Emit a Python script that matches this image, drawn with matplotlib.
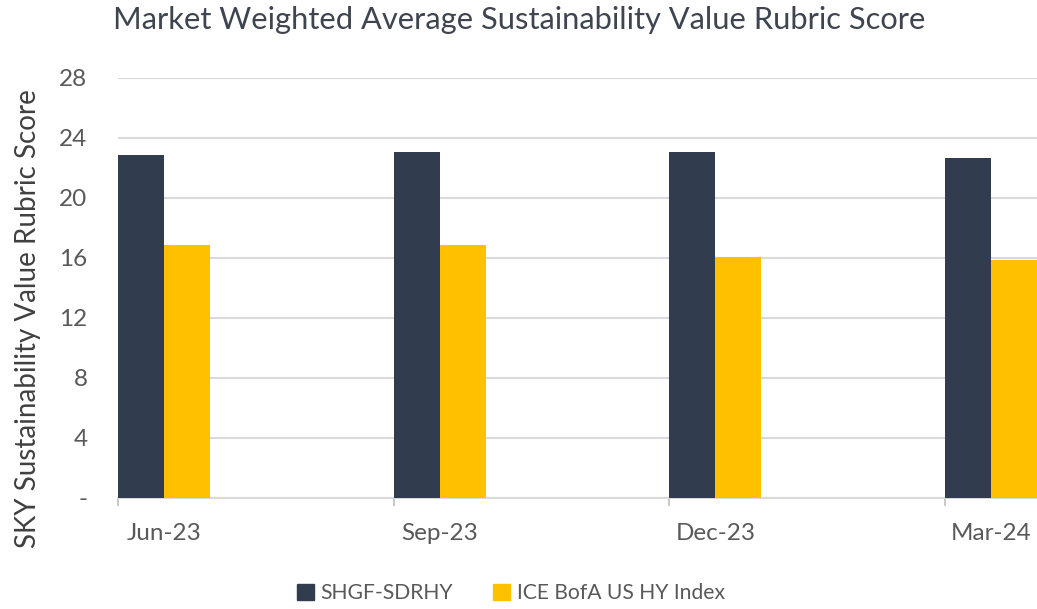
import numpy as np
import matplotlib.pyplot as plt
from matplotlib.patches import Patch

# данные
quarters = ["Jun-23", "Sep-23", "Dec-23", "Mar-24"]
shgf = [22.9, 23.1, 23.1, 22.7]
ice = [16.9, 16.9, 16.1, 15.9]
yticks = [0, 4, 8, 12, 16, 20, 24, 28]
ytick_labels = ["-", "4", "8", "12", "16", "20", "24", "28"]

dark = "#323C4F"
gold = "#FFC000"
text_col = "#595959"

plt.rcParams['font.family'] = ['Lato', 'DejaVu Sans']

fig = plt.figure(figsize=(10.37, 6.09), dpi=100)
ax = fig.add_axes([118 / 1037, 111 / 609, 919 / 1037, 420 / 609])

x = np.arange(len(quarters))
w = 0.167
ax.bar(x - w / 2, shgf, width=w, color=dark, zorder=3)
ax.bar(x + w / 2, ice, width=w, color=gold, zorder=3)

ax.set_ylim(0, 28)
ax.set_yticks(yticks)
ax.set_yticklabels(ytick_labels)
ax.set_xlim(-w, 3 + w)
ax.set_xticks(x)
ax.set_xticklabels(quarters)
ax.set_xticks(x - w, minor=True)
ax.tick_params(axis="x", which="major", length=0, pad=18, labelsize=17.5, labelcolor=text_col)
ax.tick_params(axis="x", which="minor", length=6, width=1.2, color="#BFBFBF")
ax.tick_params(axis="y", length=0, pad=22, labelsize=17.5, labelcolor=text_col)

ax.grid(axis="y", color="#D9D9D9", linewidth=1.5, zorder=0)
for s in ["top", "right", "left"]:
    ax.spines[s].set_visible(False)
ax.spines["bottom"].set_color("#D9D9D9")
ax.spines["bottom"].set_linewidth(1.5)

fig.text(113 / 1037, 1 - 20 / 609, "Market Weighted Average Sustainability Value Rubric Score",
         fontsize=22.2, color="#3F4550", ha="left", va="center")
fig.text(28 / 1037, 1 - 319 / 609, "SKY Sustainability Value Rubric Score",
         fontsize=20, color="#404040", rotation=90, ha="center", va="center")

handles = [Patch(color=dark, label="SHGF-SDRHY"), Patch(color=gold, label="ICE BofA US HY Index")]
fig.legend(handles=handles, loc="center", bbox_to_anchor=(511 / 1037, 1 - 593 / 609), ncol=2,
           frameon=False, fontsize=15.2, handlelength=0.8, handleheight=0.8,
           handletextpad=0.3, columnspacing=1.9, labelcolor=text_col)

fig.savefig("out.png", dpi=100)
